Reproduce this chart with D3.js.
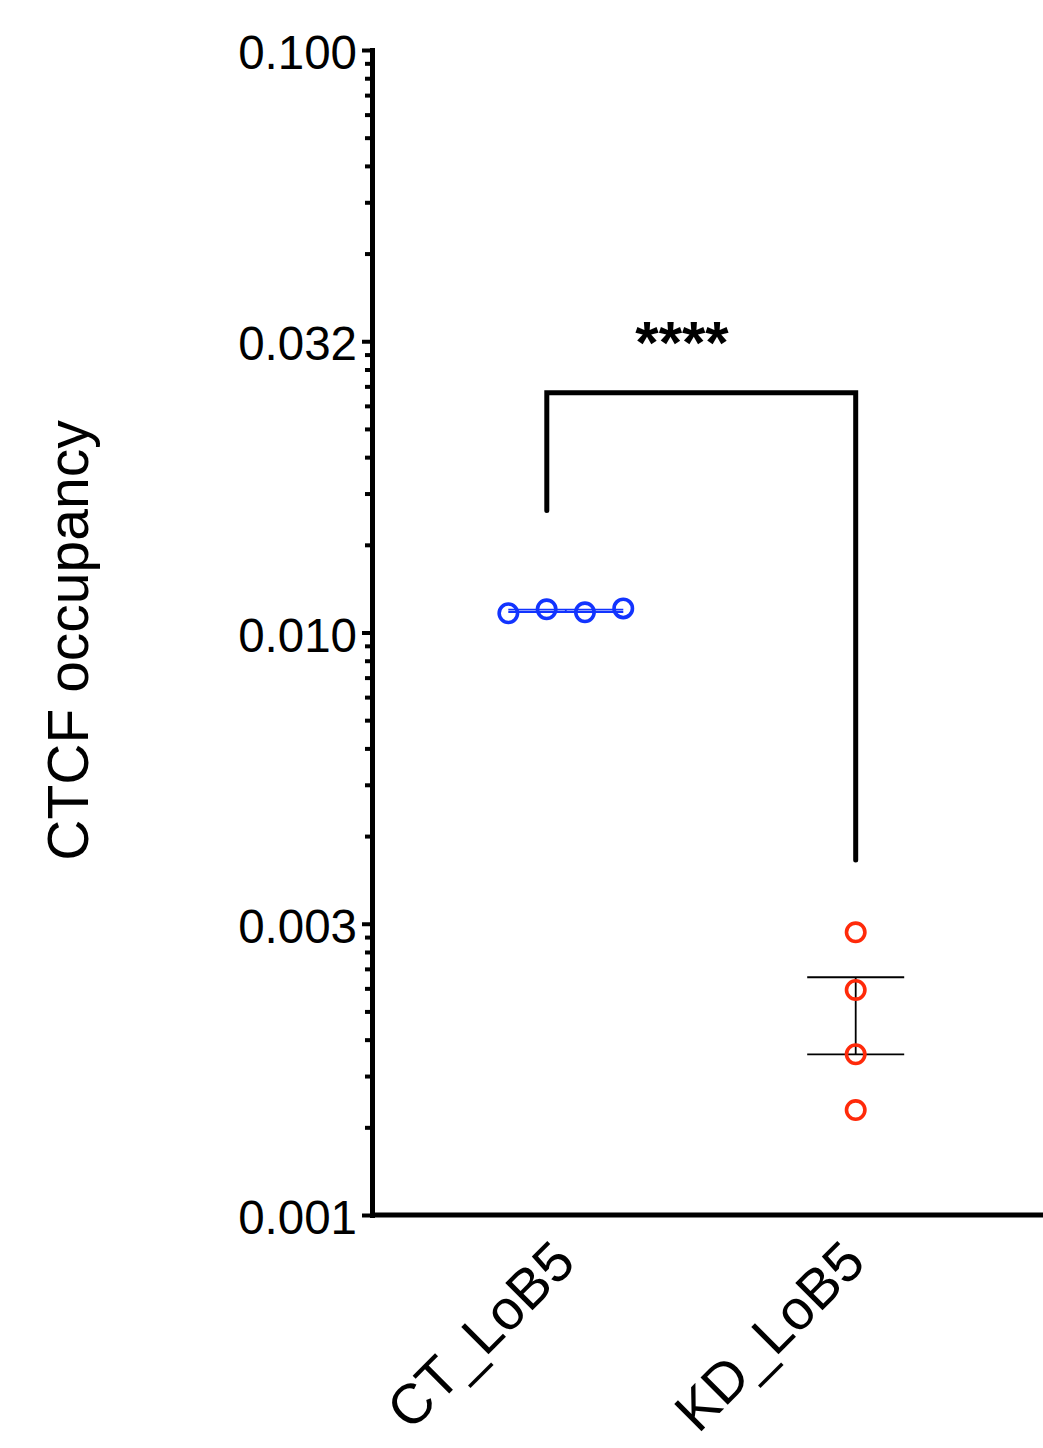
<!DOCTYPE html>
<html>
<head>
<meta charset="utf-8">
<script src="https://cdn.jsdelivr.net/npm/d3@7"></script>
<style>
  body { margin: 0; background: #fff; }
  svg { display: block; font-family: 'Liberation Sans', Arial, Helvetica, sans-serif; }
</style>
</head>
<body>
<div id="chart"></div>
<script>
// values
var groups = ['CT_LoB5', 'KD_LoB5'];
var ctValues = [0.01079, 0.01096, 0.01083, 0.01100];
var kdValues = [0.003057, 0.002434, 0.001888, 0.001514];
var majorTicks = [0.001, 0.0031623, 0.01, 0.031623, 0.1];
var majorLabels = ['0.001', '0.003', '0.010', '0.032', '0.100'];
var yTitle = 'CTCF occupancy';
var significance = '****';
// bracket: left leg end, top, right leg end (in y units)
var bracketValues = [0.0162, 0.0258, 0.00407];

var Occupancy;

Occupancy = (function() {

  Occupancy.width = 1043;
  Occupancy.height = 1448;
  Occupancy.axisX = 372;
  Occupancy.top = 50;
  Occupancy.bottom = 1215;
  Occupancy.colorScale = d3.scaleOrdinal()
    .domain(groups)
    .range(['#1234ff', '#ff2a0a']);
  Occupancy.spread = { 'CT_LoB5': 38.3, 'KD_LoB5': 0 };
  Occupancy.capHalf = { 'CT_LoB5': 57.5, 'KD_LoB5': 48.5 };
  Occupancy.capColor = { 'CT_LoB5': '#1234ff', 'KD_LoB5': '#000' };

  function Occupancy(series) {
    this.series = series;
    this.buildSupporting();
    this.buildSVG();
    this.buildAxes();
    this.buildGroups();
    this.buildBracket();
  }

  Occupancy.prototype.buildSupporting = function() {
    this.y = d3.scaleLog()
      .domain([0.001, 0.1])
      .range([Occupancy.bottom, Occupancy.top]);
    this.x = d3.scalePoint()
      .domain(groups)
      .range([565.8, 855.7]);
    this.minorTicks = [];
    var _this = this;
    majorTicks.slice(0, -1).forEach(function(m) {
      for (var k = 2; k <= 9; k++) _this.minorTicks.push(m * Math.sqrt(k));
    });
  }

  Occupancy.prototype.buildSVG = function() {
    this.svg = d3.select('#chart')
      .append('svg')
      .attr('width', Occupancy.width)
      .attr('height', Occupancy.height);
    this.svg.append('rect')
      .attr('width', Occupancy.width)
      .attr('height', Occupancy.height)
      .style('fill', '#fff');
  }

  Occupancy.prototype.buildAxes = function() {
    var minor = this.svg.append('g')
      .attr('transform', 'translate(' + Occupancy.axisX + ',0)')
      .call(d3.axisLeft(this.y).tickValues(this.minorTicks).tickSize(7).tickFormat(''));
    minor.select('.domain').remove();
    minor.selectAll('line').style('stroke', '#000').style('stroke-width', 4);

    var major = this.svg.append('g')
      .attr('transform', 'translate(' + Occupancy.axisX + ',0)')
      .call(d3.axisLeft(this.y)
        .tickValues(majorTicks)
        .tickSize(10)
        .tickSizeOuter(0)
        .tickPadding(5)
        .tickFormat(function(d, i) { return majorLabels[i] }));
    major.select('.domain')
      .style('stroke', '#000')
      .style('stroke-width', 5)
      .style('stroke-linecap', 'square');
    major.selectAll('line').style('stroke', '#000').style('stroke-width', 4);
    major.selectAll('text')
      .attr('dy', '0.39em')
      .style('font-size', '47.5px')
      .style('fill', '#000')
      .style('font-family', "'Liberation Sans', Arial, Helvetica, sans-serif");

    // x axis line, no ticks
    this.svg.append('line')
      .attr('x1', Occupancy.axisX)
      .attr('x2', Occupancy.width)
      .attr('y1', this.y(0.001))
      .attr('y2', this.y(0.001))
      .style('stroke', '#000')
      .style('stroke-width', 5);

    var _this = this;
    this.svg.selectAll('.xlabel')
      .data(groups)
      .enter()
      .append('text')
      .attr('class', 'xlabel')
      .attr('transform', function(d) {
        return 'translate(' + (_this.x(d) + 12) + ',1265) rotate(-45)';
      })
      .attr('text-anchor', 'end')
      .style('font-size', '56px')
      .text(function(d) { return d });

    this.svg.append('text')
      .attr('transform', 'translate(88,' + ((Occupancy.top + Occupancy.bottom) / 2 + 8) + ') rotate(-90)')
      .attr('text-anchor', 'middle')
      .style('font-size', '57px')
      .text(yTitle);
  }

  Occupancy.prototype.buildGroups = function() {
    var _this = this;
    this.series.forEach(function(s) {
      var cx = _this.x(s.group);
      var n = s.values.length;
      var mean = d3.mean(s.values);
      var sem = d3.deviation(s.values) / Math.sqrt(n);
      var g = _this.svg.append('g');
      var half = Occupancy.capHalf[s.group];
      var capColor = Occupancy.capColor[s.group];

      g.selectAll('.cap')
        .data([mean + sem, mean - sem])
        .enter()
        .append('line')
        .attr('x1', cx - half)
        .attr('x2', cx + half)
        .attr('y1', function(d) { return _this.y(d) })
        .attr('y2', function(d) { return _this.y(d) })
        .style('stroke', capColor)
        .style('stroke-width', 1.8);
      g.append('line')
        .attr('x1', cx)
        .attr('x2', cx)
        .attr('y1', _this.y(mean + sem))
        .attr('y2', _this.y(mean - sem))
        .style('stroke', capColor)
        .style('stroke-width', 1.8);

      g.selectAll('.pt')
        .data(s.values)
        .enter()
        .append('circle')
        .attr('cx', function(d, i) { return cx + (i - (n - 1) / 2) * Occupancy.spread[s.group] })
        .attr('cy', function(d) { return _this.y(d) })
        .attr('r', 9.2)
        .style('fill', 'none')
        .style('stroke', Occupancy.colorScale(s.group))
        .style('stroke-width', 3.6);
    });
  }

  Occupancy.prototype.buildBracket = function() {
    var x0 = this.x(groups[0]) - 19;
    var x1 = this.x(groups[1]);
    var y = this.y;
    this.svg.append('path')
      .attr('d', 'M' + x0 + ',' + y(bracketValues[0]) +
        'V' + y(bracketValues[1]) +
        'H' + x1 +
        'V' + y(bracketValues[2]))
      .style('fill', 'none')
      .style('stroke', '#000')
      .style('stroke-width', 5)
      .style('stroke-linecap', 'round');
    this.svg.append('text')
      .attr('x', 682)
      .attr('y', y(bracketValues[1]) - 30)
      .attr('text-anchor', 'middle')
      .style('font-size', '60px')
      .style('font-weight', 'bold')
      .text(significance);
  }

  return Occupancy;

})();

new Occupancy([
  { group: groups[0], values: ctValues },
  { group: groups[1], values: kdValues }
]);
</script>
</body>
</html>
